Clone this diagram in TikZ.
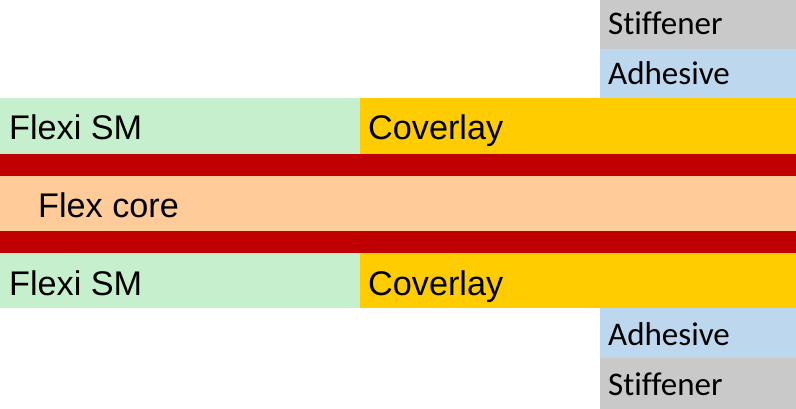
\documentclass[tikz,border=0pt]{standalone}
\usepackage{fontspec}
\setmainfont{Liberation Sans}
\newfontfamily\calib[Ligatures=NoCommon]{Carlito}
\definecolor{smgreen}{HTML}{C6EFCE}
\definecolor{covyellow}{HTML}{FFCC00}
\definecolor{cured}{HTML}{C00000}
\definecolor{corepeach}{HTML}{FFCC99}
\definecolor{adhblue}{HTML}{BDD7EE}
\definecolor{stifgray}{HTML}{C9C9C9}
\begin{document}
\begin{tikzpicture}[x=1pt,y=-1pt,
  big/.style={anchor=base west,inner sep=0pt,font=\fontsize{34.2}{40}\selectfont},
  small/.style={anchor=base west,inner sep=0pt,font=\calib\fontsize{33}{38}\selectfont}]
\useasboundingbox (0,0) rectangle (796,409);
% top stiffener and adhesive
\fill[stifgray] (600,0) rectangle (796,49);
\fill[adhblue] (600,49) rectangle (796,98);
% top coverlay layer
\fill[smgreen] (0,98) rectangle (360,154);
\fill[covyellow] (360,98) rectangle (796,154);
% copper
\fill[cured] (0,154) rectangle (796,176);
% core
\fill[corepeach] (0,176) rectangle (796,231);
% copper
\fill[cured] (0,231) rectangle (796,253);
% bottom coverlay layer
\fill[smgreen] (0,253) rectangle (360,308);
\fill[covyellow] (360,253) rectangle (796,308);
% bottom adhesive and stiffener
\fill[adhblue] (600,308) rectangle (796,358);
\fill[stifgray] (600,358) rectangle (796,409);
% labels
\node[small] (st1) at (608,35) {Stiffener};
\node[small] (ad1) at (608,85) {Adhesive};
\node[big] (fs1) at (9,140) {Flexi SM};
\node[big] (cv1) at (368,140) {Coverlay};
\node[big] (fc) at (38,218) {Flex core};
\node[big] (fs2) at (9,295) {Flexi SM};
\node[big] (cv2) at (368,295) {Coverlay};
\node[small] (ad2) at (608,345) {Adhesive};
\node[small] (st2) at (608,395) {Stiffener};
\end{tikzpicture}
\end{document}
